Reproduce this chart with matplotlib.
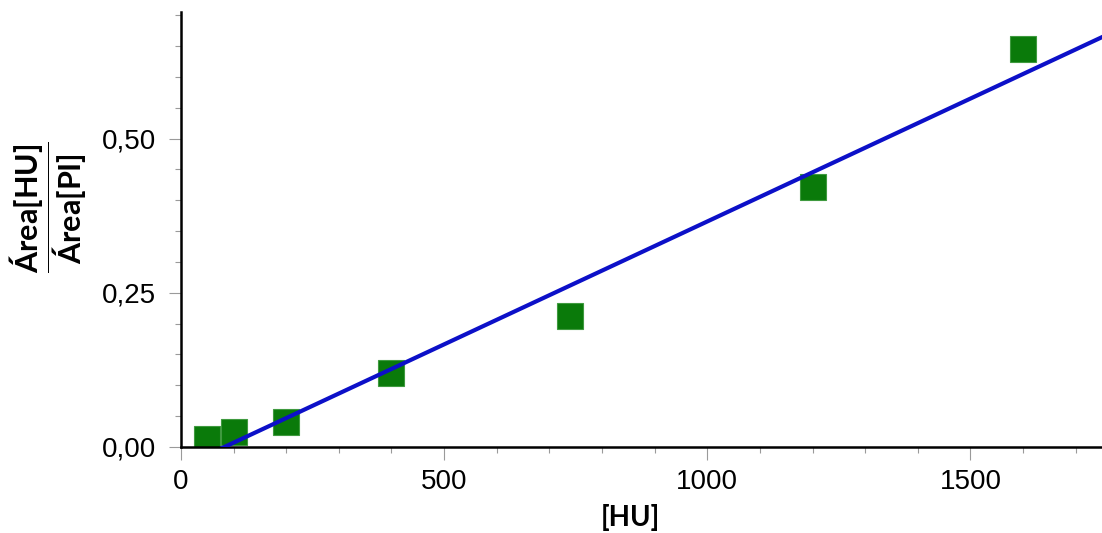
import matplotlib
matplotlib.use('Agg')
import matplotlib.pyplot as plt
from matplotlib.ticker import MultipleLocator, FuncFormatter
import numpy as np

plt.rcParams['font.family'] = 'Liberation Sans'
plt.rcParams['mathtext.fontset'] = 'custom'
plt.rcParams['mathtext.bf'] = 'Lato:bold'
plt.rcParams['mathtext.rm'] = 'Lato'

# calibration points
conc_hu = [50, 100, 200, 400, 740, 1200, 1600]
area_ratio = [0.013, 0.025, 0.041, 0.120, 0.213, 0.422, 0.645]

x = np.array(conc_hu, dtype=float)
y = np.array(area_ratio, dtype=float)
slope, intercept = np.polyfit(x, y, 1)

fig = plt.figure(figsize=(11.02, 5.33), dpi=100)
ax = fig.add_axes([0.1642, 0.1614, 0.8358, 0.816])

x_line = np.linspace(0, 1750, 200)
ax.plot(x_line, slope * x_line + intercept, color='#0c10c8', lw=3, zorder=3)
ax.plot(x, y, ls='none', marker='s', ms=18.5, mfc='#0a7a0a',
        mec='#3f9a3f', mew=0.8, zorder=2)

ax.set_xlim(0, 1750)
ax.set_ylim(0, 0.705)

ax.xaxis.set_major_locator(MultipleLocator(500))
ax.xaxis.set_minor_locator(MultipleLocator(100))
ax.yaxis.set_major_locator(MultipleLocator(0.25))
ax.yaxis.set_minor_locator(MultipleLocator(0.05))
ax.yaxis.set_major_formatter(FuncFormatter(lambda v, p: f'{v:.2f}'.replace('.', ',')))

for s in ['top', 'right']:
    ax.spines[s].set_visible(False)
for s in ['left', 'bottom']:
    ax.spines[s].set_linewidth(1.8)
    ax.spines[s].set_color('black')

ax.tick_params(which='major', length=9, width=0.8, color='#9a9a9a',
               labelsize=20)
ax.tick_params(axis='x', which='major', pad=7)
ax.tick_params(axis='y', which='major', pad=9)
ax.tick_params(which='minor', length=4.3, width=0.8, color='#9a9a9a')

ax.set_xlabel('[HU]', fontsize=20, fontweight='bold', family='Lato')
ax.xaxis.set_label_coords(0.4875, -0.13)
ax.set_ylabel(r'$\dfrac{\mathbf{Área[HU]}}{\mathbf{Área[PI]}}$', fontsize=22)
ax.yaxis.set_label_coords(-0.1, 0.552)

fig.savefig('out.png', dpi=100)
